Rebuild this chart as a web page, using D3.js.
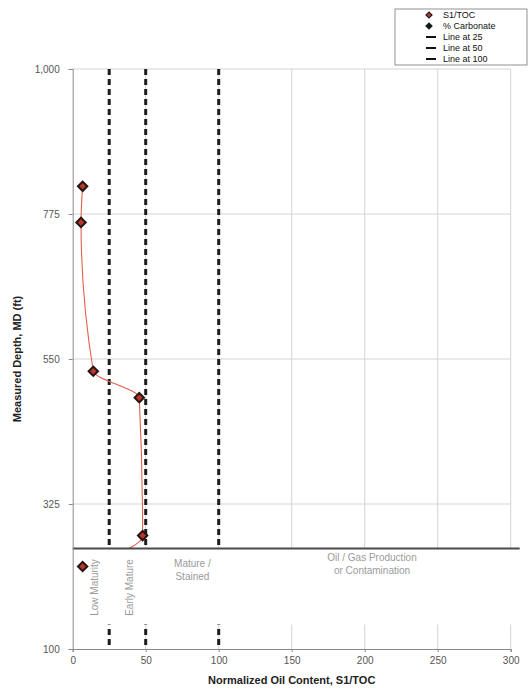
<!DOCTYPE html>
<html>
<head>
<meta charset="utf-8">
<script src="https://cdn.jsdelivr.net/npm/d3@7"></script>
<style>
  html, body { margin: 0; padding: 0; background: #fff; }
  svg { display: block; font-family: "Liberation Sans", Arial, sans-serif; }
</style>
</head>
<body>
<svg id="chart" width="532" height="690"></svg>
<script>
// S1/TOC samples (normalized oil content vs measured depth, ft)
const s1toc = [6.8, 5.7, 14.1, 45.6, 47.9, 6.8];
const depth = [818, 762, 531, 490, 276, 228];

// Interpretation thresholds drawn as dashed verticals
const thresholds = [25, 50, 100];

// Axis ticks
const xTicks = [0, 50, 100, 150, 200, 250, 300];
const yTicks = [100, 325, 550, 775, 1000];

// Maturity band labels
const bandLabels = [
  { x: 15, lines: ["Low Maturity"], rotate: true },
  { x: 39, lines: ["Early Mature"], rotate: true },
  { x: 82, lines: ["Mature /", "Stained"], rotate: false },
  { x: 205, lines: ["Oil / Gas Production", "or Contamination"], rotate: false }
];
const bandTop = 256;     // depth of the band boundary line
const bandBottom = 138;  // lower edge of the label band

const legendItems = [
  { label: "S1/TOC", type: "marker", fill: "#b5382a" },
  { label: "% Carbonate", type: "marker", fill: "#1a1a1a" },
  { label: "Line at 25", type: "line" },
  { label: "Line at 50", type: "line" },
  { label: "Line at 100", type: "line" }
];

const svg = d3.select("#chart");
const x = d3.scaleLinear().domain([0, 300]).range([72.7, 510.7]);
const y = d3.scaleLinear().domain([100, 1000]).range([649, 69]);

const grid = "#d4d4d4";

// Horizontal gridlines
svg.append("g").selectAll("line").data(yTicks.filter(d => d !== 100)).join("line")
  .attr("x1", x(0)).attr("x2", x(300))
  .attr("y1", d => y(d)).attr("y2", d => y(d))
  .attr("stroke", grid).attr("stroke-width", 1);

// Vertical gridlines
svg.append("g").selectAll("line").data(xTicks.filter(d => d !== 0)).join("line")
  .attr("x1", d => x(d)).attr("x2", d => x(d))
  .attr("y1", y(100)).attr("y2", y(1000))
  .attr("stroke", grid).attr("stroke-width", 1);

// Threshold dashed lines
svg.append("g").selectAll("line").data(thresholds).join("line")
  .attr("x1", d => x(d)).attr("x2", d => x(d))
  .attr("y1", y(1000)).attr("y2", y(100))
  .attr("stroke", "#1c1c1c").attr("stroke-width", 3)
  .attr("stroke-dasharray", "6,4");

// S1/TOC trace
const pts = s1toc.map((v, i) => [v, depth[i]]);
svg.append("path")
  .datum(pts)
  .attr("fill", "none")
  .attr("stroke", "#e0604f")
  .attr("stroke-width", 1.1)
  .attr("d", d3.line().x(d => x(d[0])).y(d => y(d[1])).curve(d3.curveMonotoneY));

// Label band (blank panel below the boundary)
svg.append("rect")
  .attr("x", x(0) + 1).attr("y", y(bandTop))
  .attr("width", x(300) - x(0) + 10).attr("height", y(bandBottom) - y(bandTop))
  .attr("fill", "#fff");

// Band boundary line
svg.append("line")
  .attr("x1", x(0)).attr("x2", x(300) + 9)
  .attr("y1", y(bandTop)).attr("y2", y(bandTop))
  .attr("stroke", "#4a4a4a").attr("stroke-width", 2);

// Band labels
const bl = svg.append("g").attr("fill", "#9a9a9a").attr("font-size", 10).attr("text-anchor", "middle");
bandLabels.forEach(b => {
  if (b.rotate) {
    bl.append("text")
      .attr("transform", `translate(${x(b.x) + 3.5},${y(bandTop) + 39}) rotate(-90)`)
      .text(b.lines[0]);
  } else {
    b.lines.forEach((t, i) => {
      bl.append("text")
        .attr("x", x(b.x)).attr("y", y(bandTop) + 13 + i * 13 + (b.x < 100 ? 6 : 0))
        .text(t);
    });
  }
});

// Axes
const axisColor = "#8a8a8a";
const yAxis = svg.append("g").attr("transform", `translate(${x(0)},0)`)
  .call(d3.axisLeft(y).tickValues(yTicks).tickFormat(d3.format(",")).tickSize(4).tickPadding(9));
const xAxis = svg.append("g").attr("transform", `translate(0,${y(100)})`)
  .call(d3.axisBottom(x).tickValues(xTicks).tickSize(3).tickPadding(5));
[yAxis, xAxis].forEach(a => {
  a.select(".domain").attr("stroke", axisColor);
  a.selectAll(".tick line").attr("stroke", axisColor);
  a.selectAll(".tick text").attr("fill", "#555").attr("font-size", 10)
    .attr("font-family", "'Liberation Sans', Arial, sans-serif");
});

// Markers: square rotated 45 degrees
const diamond = d3.symbol().type(d3.symbolSquare).size(44);
svg.append("g").selectAll("path").data(pts).join("path")
  .attr("transform", d => `translate(${x(d[0])},${y(d[1])}) rotate(45)`)
  .attr("d", diamond)
  .attr("fill", "#b5382a")
  .attr("stroke", "#261414").attr("stroke-width", 2);

// Axis titles
svg.append("text")
  .attr("x", (x(0) + x(300)) / 2).attr("y", 684)
  .attr("text-anchor", "middle").attr("font-weight", "bold").attr("font-size", 11)
  .attr("fill", "#222")
  .text("Normalized Oil Content, S1/TOC");
svg.append("text")
  .attr("transform", `translate(21,${(y(100) + y(1000)) / 2}) rotate(-90)`)
  .attr("text-anchor", "middle").attr("font-weight", "bold").attr("font-size", 11)
  .attr("fill", "#222")
  .text("Measured Depth, MD (ft)");

// Legend
const lg = svg.append("g").attr("transform", "translate(395,9)");
lg.append("rect").attr("width", 132).attr("height", 56)
  .attr("fill", "#fff").attr("stroke", "#777").attr("stroke-width", 0.8);
legendItems.forEach((it, i) => {
  const cy = 6 + i * 11;
  if (it.type === "marker") {
    lg.append("path")
      .attr("transform", `translate(34,${cy}) rotate(45)`)
      .attr("d", d3.symbol().type(d3.symbolSquare).size(18))
      .attr("fill", it.fill).attr("stroke", "#1a1a1a").attr("stroke-width", 1.2);
  } else {
    lg.append("line").attr("x1", 31).attr("x2", 41).attr("y1", cy).attr("y2", cy)
      .attr("stroke", "#111").attr("stroke-width", 2);
  }
  lg.append("text").attr("x", 48).attr("y", cy + 3.2)
    .attr("font-size", 9).attr("fill", "#111").text(it.label);
});
</script>
</body>
</html>
